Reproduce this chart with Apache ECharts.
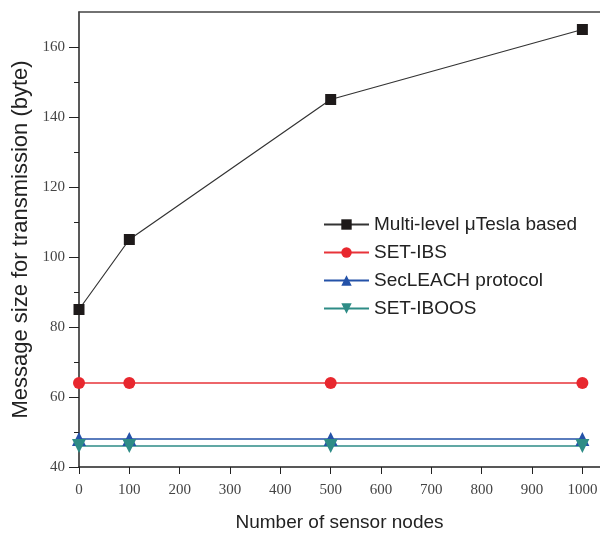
<!DOCTYPE html>
<html>
<head>
<meta charset="utf-8">
<script src="https://cdn.jsdelivr.net/npm/echarts@6/dist/echarts.min.js"></script>
<style>
  html, body { margin: 0; padding: 0; background: #fff; }
  #chart { width: 600px; height: 535px; }
</style>
</head>
<body>
<div id="chart"></div>
<script>
// values
const nodes = [0, 100, 500, 1000]
const multiLevel = [85, 105, 145, 165]
const setIbs = [64, 64, 64, 64]
const secLeach = [48, 48, 48, 48]
const setIboos = [46, 46, 46, 46]

const xTicks = [0, 100, 200, 300, 400, 500, 600, 700, 800, 900, 1000]
const yTicks = [40, 60, 80, 100, 120, 140, 160]
const yMinor = [50, 70, 90, 110, 130, 150]

const serif = 'Liberation Serif'
const sans = 'Liberation Sans'

function pts(ys) {
  return nodes.map((x, i) => [x, ys[i]])
}

const chart = echarts.init(document.getElementById('chart'))

chart.setOption({
  animation: false,
  grid: { left: 79, right: 0, top: 12, bottom: 68, outerBoundsMode: 'none', containLabel: false },
  legend: {
    orient: 'vertical',
    left: 323,
    top: 215,
    padding: 0,
    itemWidth: 45,
    itemHeight: 13,
    itemGap: 9,
    textStyle: { fontFamily: sans, fontSize: 19, color: '#222' },
    data: ['Multi-level μTesla based', 'SET-IBS', 'SecLEACH protocol', 'SET-IBOOS']
  },
  xAxis: [{
    type: 'value',
    min: 0,
    max: 1035,
    name: 'Number of sensor nodes',
    nameLocation: 'middle',
    nameGap: 46,
    nameTextStyle: { fontFamily: sans, fontSize: 19, color: '#222' },
    axisLine: { lineStyle: { color: '#222', width: 1.5 } },
    axisTick: { customValues: xTicks, length: 7, lineStyle: { color: '#222' } },
    axisLabel: {
      customValues: xTicks,
      formatter: v => String(v),
      fontFamily: serif, fontSize: 15, color: '#444', margin: 16
    },
    splitLine: { show: false }
  }, {
    type: 'value',
    position: 'top',
    min: 0,
    max: 1035,
    axisLine: { show: true, lineStyle: { color: '#444', width: 1.5 } },
    axisTick: { show: false },
    axisLabel: { show: false },
    splitLine: { show: false }
  }],
  yAxis: [{
    type: 'value',
    min: 40,
    max: 170,
    name: 'Message size for transmission (byte)',
    nameLocation: 'middle',
    nameGap: 46,
    nameTextStyle: { fontFamily: sans, fontSize: 22, color: '#222' },
    axisLine: { show: true, lineStyle: { color: '#222', width: 1.5 } },
    axisTick: { customValues: yTicks, length: 10, lineStyle: { color: '#222' } },
    axisLabel: { customValues: yTicks, fontFamily: serif, fontSize: 15, color: '#444', margin: 14 },
    splitLine: { show: false }
  }, {
    type: 'value',
    position: 'left',
    min: 40,
    max: 170,
    axisLine: { show: false },
    axisTick: { customValues: yMinor, length: 5, lineStyle: { color: '#222' } },
    axisLabel: { show: false },
    splitLine: { show: false }
  }],
  series: [{
    name: 'Multi-level μTesla based',
    type: 'line',
    data: pts(multiLevel),
    symbol: 'rect',
    symbolSize: 11,
    lineStyle: { color: '#333', width: 1.2 },
    itemStyle: { color: '#1e1a1a' }
  }, {
    name: 'SET-IBS',
    type: 'line',
    data: pts(setIbs),
    symbol: 'circle',
    symbolSize: 12,
    lineStyle: { color: '#e8343a', width: 1.5 },
    itemStyle: { color: '#e8272e' }
  }, {
    name: 'SecLEACH protocol',
    type: 'line',
    data: pts(secLeach),
    symbol: 'triangle',
    symbolSize: 14,
    lineStyle: { color: '#2452a8', width: 1.5 },
    itemStyle: { color: '#2452a8' }
  }, {
    name: 'SET-IBOOS',
    type: 'line',
    data: pts(setIboos),
    symbol: 'triangle',
    symbolRotate: 180,
    symbolSize: 14,
    lineStyle: { color: '#2e8c86', width: 1.5 },
    itemStyle: { color: '#2e8c86' }
  }]
})
</script>
</body>
</html>
